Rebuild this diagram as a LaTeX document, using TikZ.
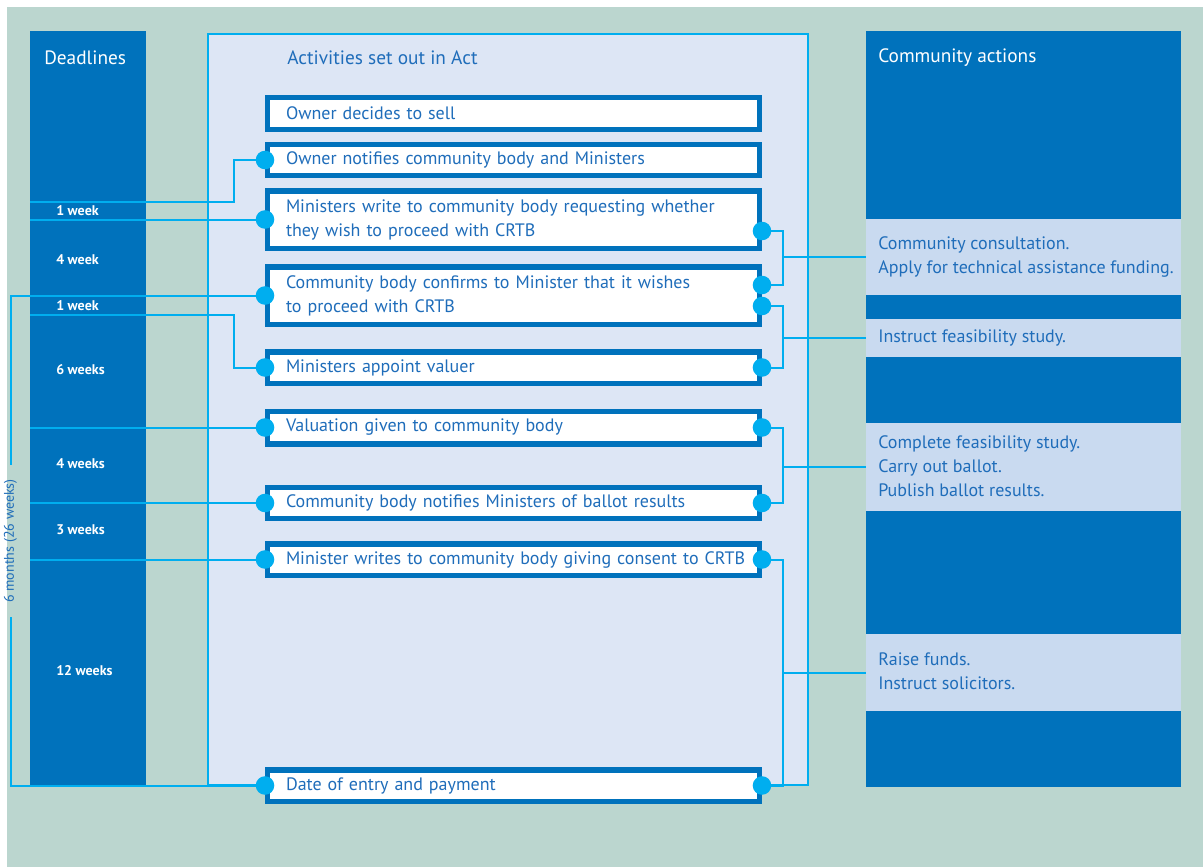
\documentclass[tikz,border=0pt]{standalone}
\usepackage{fontspec}
\setmainfont{PT Sans}
\usetikzlibrary{calc}
\definecolor{bgteal}{HTML}{BBD6CF}
\definecolor{dblue}{HTML}{0072BC}
\definecolor{actfill}{HTML}{DDE6F5}
\definecolor{cclight}{HTML}{C9DAF0}
\definecolor{cyanl}{HTML}{00AEEF}
\definecolor{tblue}{HTML}{1F6DBA}
\begin{document}
\begin{tikzpicture}[x=0.75pt,y=-0.75pt,
  conn/.style={draw=cyanl, line width=1.5pt},
  col/.style={fill=dblue, inner sep=0pt, draw=none},
  ccseg/.style={fill=cclight, inner sep=0pt, draw=none, minimum width=236.25pt},
  actbox/.style={draw=dblue, line width=4.1pt, fill=white, text=tblue, align=left,
    text width=341.25pt, inner xsep=13.7pt, inner ysep=0pt,
    font=\fontsize{13.5}{18}\selectfont},
  cctext/.style={anchor=west, align=left, text=tblue, inner sep=0pt,
    font=\fontsize{13.5}{18.2}\selectfont},
  titletext/.style={anchor=west, inner sep=0pt, font=\fontsize{14.5}{17}\selectfont},
  dltext/.style={anchor=west, inner sep=0pt, text=white, font=\bfseries\fontsize{10.5}{12}\selectfont},
  dotn/.style={circle, fill=cyanl, minimum size=13.9pt, inner sep=0pt, draw=none}
]
\useasboundingbox (0,0) rectangle (1203,867);
\fill[white] (0,0) rectangle (1203,867);
\fill[bgteal] (7,7) rectangle (1203,867);

% columns
\node[col, minimum width=87pt, minimum height=567pt] (dl) at (88,409) {};
\node[titletext, text=white] (dlt) at (44,58) {Deadlines};
\node[draw=cyanl, line width=1.5pt, fill=actfill, minimum width=450pt,
  minimum height=563.25pt, inner sep=0pt] (act) at (508,409.5) {};
\node[titletext, text=tblue] (actt) at (287,58) {Activities set out in Act};
\node[col, minimum width=236.25pt, minimum height=567pt] (ca) at (1023.5,409) {};
\node[titletext, text=white] (cat) at (878,58) {Community actions};
\node[ccseg, minimum height=57pt] (cc1) at (1023.5,257) {};
\node[ccseg, minimum height=28.5pt] (cc2) at (1023.5,338) {};
\node[ccseg, minimum height=66pt] (cc3) at (1023.5,467) {};
\node[ccseg, minimum height=57.75pt] (cc4) at (1023.5,672.5) {};
\node[cctext] (ct1) at (878,257) {Community consultation.\\Apply for technical assistance funding.};
\node[cctext] (ct2) at (878,338) {Instruct feasibility study.};
\node[cctext] (ct3) at (878,466) {Complete feasibility study.\\Carry out ballot.\\Publish ballot results.};
\node[cctext] (ct4) at (878,671.5) {Raise funds.\\Instruct solicitors.};

% deadline labels
\node[dltext] (w1) at (56,211) {1 week};
\node[dltext] (w2) at (56,260) {4 week};
\node[dltext] (w3) at (56,306) {1 week};
\node[dltext] (w4) at (56,370) {6 weeks};
\node[dltext] (w5) at (56,464) {4 weeks};
\node[dltext] (w6) at (56,530) {3 weeks};
\node[dltext] (w7) at (56,671) {12 weeks};

% activity boxes
\node[actbox, minimum height=23.6pt] (b1) at (513.5,113.5) {Owner decides to sell};
\node[actbox, minimum height=22.9pt] (b2) at (513.5,160) {Owner notifies community body and Ministers};
\node[actbox, minimum height=43.1pt] (b3) at (513.5,219.5) {Ministers write to community body requesting whether\\they wish to proceed with CRTB};
\node[actbox, minimum height=43.1pt] (b4) at (513.5,295.5) {Community body confirms to Minister that it wishes\\to proceed with CRTB};
\node[actbox, minimum height=23.6pt] (b5) at (513.5,367.5) {Ministers appoint valuer};
\node[actbox, minimum height=24.4pt] (b6) at (513.5,427.5) {Valuation given to community body};
\node[actbox, minimum height=22.9pt] (b7) at (513.5,503) {Community body notifies Ministers of ballot results};
\node[actbox, minimum height=23.6pt] (b8) at (513.5,559.5) {\mbox{Minister writes to community body giving consent to CRTB}};
\node[actbox, minimum height=23.6pt] (b9) at (513.5,785.5) {Date of entry and payment};

% bracket label
\node[rotate=90, text=tblue, inner xsep=10.5pt, inner ysep=0pt,
  minimum width=114pt, font=\fontsize{10.5}{12}\selectfont] (six) at (10.5,541) {6 months (26 weeks)};

% junction coordinates
\coordinate (j2) at (234,202);
\coordinate (j5) at (234,314.5);
\coordinate (rx) at (783,0);
\coordinate (r3) at ($(b3.east)+(0,11.5)$);
\coordinate (r4a) at ($(b4.east)+(0,-10.5)$);
\coordinate (r4b) at ($(b4.east)+(0,10.5)$);

% left connectors
\draw[conn] (b2.west) -| (j2) -- (dl.west |- j2);
\draw[conn] (b3.west) -- (dl.west |- b3.west);
\draw[conn] (b4.west) -| (six.east);
\draw[conn] (six.west) |- (b9.west);
\draw[conn] (b5.west) -| (j5) -- (dl.west |- j5);
\draw[conn] (b6.west) -- (dl.west |- b6.west);
\draw[conn] (b7.west) -- (dl.west |- b7.west);
\draw[conn] (b8.west) -- (dl.west |- b8.west);

% right connectors
\draw[conn] (r3) -| (rx |- r4a) -- (r4a);
\draw[conn] (cc1.west) -- (cc1.west -| rx);
\draw[conn] (r4b) -| (rx |- b5.east) -- (b5.east);
\draw[conn] (cc2.west) -- (cc2.west -| rx);
\draw[conn] (b6.east) -| (rx |- b7.east) -- (b7.east);
\draw[conn] (cc3.west) -- (cc3.west -| rx);
\draw[conn] (b8.east) -| (rx |- b9.east) -- (b9.east);
\draw[conn] (cc4.west) -- (cc4.west -| rx);

% dots
\foreach \p/\n in {b2.west/d2, b3.west/d3, b4.west/d4, b5.west/d5, b6.west/d6,
  b7.west/d7, b8.west/d8, b9.west/d9, r3/e3, r4a/e4, r4b/e4b, b5.east/e5,
  b6.east/e6, b7.east/e7, b8.east/e8, b9.east/e9}
  \node[dotn] (\n) at (\p) {};
\end{tikzpicture}
\end{document}
